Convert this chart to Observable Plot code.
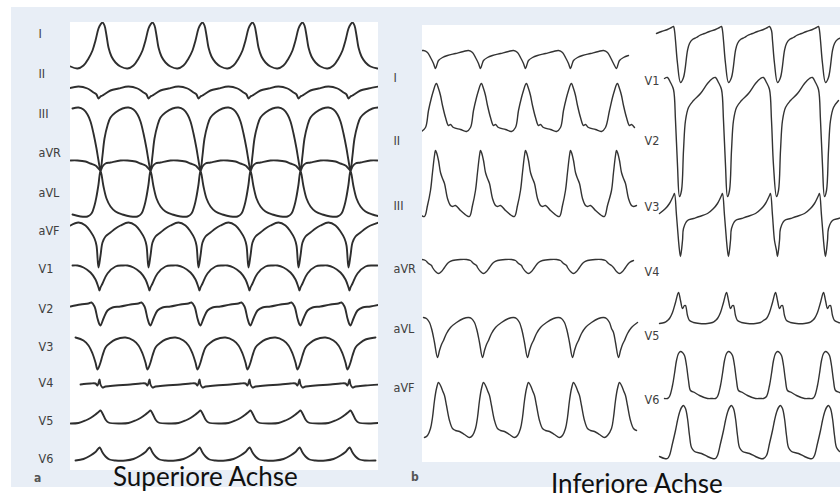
<!DOCTYPE html>
<html><head><meta charset="utf-8">
<script src="https://cdn.jsdelivr.net/npm/d3@7"></script>
<script src="https://cdn.jsdelivr.net/npm/@observablehq/plot@0.6"></script>
<style>
html,body{margin:0;padding:0;background:#fff;}
#page{position:relative;width:840px;height:498px;overflow:hidden;}
.abs{position:absolute;}
.tag{font-family:"Liberation Sans Narrow","DejaVu Sans Condensed",sans-serif;font-size:12px;font-weight:bold;color:#555;line-height:12px;}
.title{font-family:Lato,"Open Sans",sans-serif;font-size:26px;color:#111;line-height:26px;white-space:nowrap;}
svg{overflow:visible;}
</style></head>
<body><div id="page">
<div class="abs" style="left:11px;top:7px;width:829px;height:480px;background:#e8eef6"></div>
<div class="abs" style="left:70px;top:22px;width:308px;height:448px;background:#fff"></div>
<div class="abs" style="left:422px;top:25px;width:418px;height:437px;background:#fff"></div>
<div id="pa" class="abs" style="left:0;top:0"></div>
<div id="pbl" class="abs" style="left:380px;top:0"></div>
<div id="pbr" class="abs" style="left:640px;top:0"></div>
<div class="abs tag" style="left:34px;top:472px">a</div>
<div class="abs tag" style="left:411px;top:471px">b</div>
<div class="abs title" style="left:113px;top:463px">Superiore Achse</div>
<div class="abs title" style="left:551px;top:470px">Inferiore Achse</div>
</div>
<script>
// ---------- Panel a: superior axis (time in ms, amplitude in mm, 10 mm = 1 mV) ----------
const leadsA = ["I","II","III","aVR","aVL","aVF","V1","V2","V3","V4","V5","V6"];
const baselineA = [9.2, 14.2, 29.6, 27.8, 29.6, 42.6, 49.2, 57.2, 64.6, 72.6, 80.2, 87.6];
const labelRowA = [2.2, 10.2, 18.2, 26.0, 34.0, 41.6, 49.2, 57.2, 64.8, 72.0, 79.6, 87.2];
const beatsA = [-100, 150, 400, 650, 900, 1150, 1400, 1650];
const spanA = [0, 1540];
// one beat per lead: [ms after beat, mm]
const a_I   = [[0,8.8],[10,9.2],[20,8.6],[30,6.6],[40,4.2],[55,2.4],[75,1.2],[100,0.4],[135,0],[165,0.6],[190,2.0],[210,3.6],[225,5.6],[240,8.0]];
const a_II  = [[0,-0.6],[10,-0.4],[25,0],[50,0.6],[90,1.0],[140,1.4],[185,1.0],[215,0.2],[230,-0.2],[240,-1.0]];
const a_III = [[0,0],[10,3.0],[20,6.4],[35,9.0],[50,10.6],[75,11.6],[110,12.4],[140,12.6],[165,12.2],[185,11.2],[200,9.8],[215,7.4],[230,4.4],[240,2.0]];
const a_aVR = [[0,-1.8],[10,-1.0],[25,-0.4],[50,-0.2],[100,0.2],[135,0.2],[175,0],[200,-0.4],[225,-0.8],[240,-1.4]];
const a_aVL = [[0,0],[15,-3.2],[30,-5.6],[50,-7.2],[75,-8.2],[110,-8.8],[150,-9.2],[185,-9.2],[205,-8.6],[220,-7.0],[230,-5.2],[240,-2.8]];
const a_aVF = [[0,-4.0],[10,-1.4],[25,-0.2],[50,0.6],[75,1.4],[100,2.0],[140,2.6],[175,2.0],[200,0.8],[220,-0.6],[230,-2.0],[240,-6.4]];
const a_V1  = [[0,-3.8],[10,-3.0],[35,-1.0],[75,0.4],[110,0.6],[135,0.6],[165,0.2],[200,-0.8],[225,-2.2],[240,-3.8],[245,-4.4]];
const a_V2  = [[0,-3.4],[15,-2.0],[35,-0.4],[60,0.2],[100,0.4],[150,0.8],[190,1.0],[205,1.2],[220,0.4],[235,-2.0],[245,-3.2]];
const a_V3  = [[0,-3.4],[10,-2.0],[25,-0.4],[45,0.4],[75,1.2],[125,1.6],[165,1.0],[190,0],[210,-1.6],[225,-3.4],[235,-4.8]];
const a_V4  = [[0,0.2],[10,-0.4],[25,-0.2],[75,0],[150,0.2],[200,0.4],[225,0.4],[235,0],[245,1.2]];
const a_V5  = [[0,2.6],[10,2.0],[25,0.8],[40,0.2],[100,0],[140,0.1],[175,0.6],[200,1.1],[225,1.8],[240,2.3]];
const a_V6  = [[0,2.4],[10,1.6],[25,0.8],[45,0.2],[75,0],[125,0],[165,0.3],[200,1.0],[225,1.7],[245,2.6]];
const shapesA = [a_I,a_II,a_III,a_aVR,a_aVL,a_aVF,a_V1,a_V2,a_V3,a_V4,a_V5,a_V6];

// ---------- Panel b, limb leads ----------
const leadsBL = ["I","II","III","aVR","aVL","aVF"];
const baselineBL = [6.0, 20.6, 38.0, 47.4, 59.0, 82.0];
const labelRowBL = [10.4, 23.0, 36.0, 48.6, 60.6, 72.4];
const beatsBL = [-155, 70, 295, 520, 745, 975, 1200];
const rangeBL = [[0,1040],[0,1040],[5,1055],[15,1055],[25,1055],[30,1065]];
const spanBL = [0, 1090];
const bl_I   = [[-5,-2.6],[2.5,-1.8],[10,-1.0],[30,-0.4],[55,0],[95,0.4],[135,0.8],[160,1.0],[180,0.6],[195,-0.4],[210,-1.6]];
const bl_II  = [[-40,3.6],[-25,6.2],[-15,7.6],[-5,8.8],[0,9.0],[10,8.0],[20,6.6],[30,4.6],[45,2.2],[60,0.6],[70,0.8],[85,0.2],[120,-0.2],[150,-0.6],[170,0.2]];
const bl_III = [[-30,5.0],[-20,8.6],[-10,12.0],[-5,13.0],[0,12.6],[10,11.0],[20,8.6],[30,7.4],[40,6.4],[55,3.4],[70,2.0],[80,1.8],[95,2.0],[120,1.0],[150,0],[165,-0.2],[180,2.0]];
const bl_aVR = [[-20,-1.0],[-5,-1.8],[10,-2.2],[25,-1.8],[40,-1.0],[60,0],[80,0.4],[120,0.6],[150,0.6],[170,0.4],[185,-0.2],[200,-0.6]];
const bl_aVL = [[-20,-2.4],[-10,-4.4],[5,-7.4],[15,-6.0],[25,-4.8],[35,-4.0],[50,-2.6],[70,-1.4],[100,-0.4],[135,0.4],[160,0.6],[175,0.4],[190,-0.4],[200,-1.6]];
const bl_aVF = [[-30,1.4],[-20,3.6],[-10,7.0],[0,9.4],[10,10.6],[20,10.0],[30,9.0],[40,8.0],[50,6.0],[65,3.0],[80,1.4],[95,1.0],[115,0.8],[140,0.2],[165,-0.4],[180,0]];
const shapesBL = [bl_I,bl_II,bl_III,bl_aVR,bl_aVL,bl_aVF];

// ---------- Panel b, chest leads ----------
const leadsBR = ["V1","V2","V3","V4","V5","V6"];
const baselineBR = [1.0, 15.0, 38.6, 59.4, 74.6, 86.0];
const labelRowBR = [11.0, 23.0, 36.2, 49.2, 62.0, 74.8];
const beatsBR = [-120, 120, 360, 605, 845, 1085];
const rangeBR = [[15,925],[50,925],[35,925],[40,925],[50,925],[40,925]];
const spanBR = [0, 925];
const br_1 = [[-25,0],[-20,-2.0],[-10,-6.6],[5,-10.4],[20,-9.4],[40,-4.0],[50,-2.6],[65,-1.8],[85,-1.4],[100,-1.0],[125,-0.6],[150,-0.2],[180,0.2],[200,0.6],[210,0.8]];
const br_2 = [[0,-19.2],[10,-18.0],[20,-10.0],[30,-4.0],[45,-1.4],[70,0],[105,1.4],[140,3.4],[165,4.4],[180,4.6],[195,3.6],[210,2.2],[220,-4.0],[230,-13.0]];
const br_3 = [[0,-6.4],[5,-7.6],[15,-4.4],[20,-2.0],[40,-0.4],[70,0],[100,0.4],[140,1.0],[170,2.0],[190,3.0],[210,4.6],[215,5.0],[225,0.6],[235,-4.4]];
const br_4 = [[-50,0.8],[-35,2.0],[-20,4.0],[-5,6.0],[5,4.4],[15,2.8],[25,3.4],[30,3.4],[40,1.4],[50,0.4],[70,0],[100,-0.2],[140,-0.2],[165,0],[180,0.4]];
const br_5 = [[-50,0.4],[-35,2.6],[-25,5.0],[-15,7.6],[-5,9.0],[5,9.4],[15,9.2],[25,8.6],[35,6.6],[45,3.6],[55,1.6],[75,1.2],[100,0.6],[140,0],[165,0],[180,0]];
const br_6 = [[-50,0],[-35,2.4],[-20,5.0],[-10,7.0],[0,8.6],[10,9.6],[20,10.0],[30,9.4],[40,7.4],[50,4.0],[60,1.6],[75,0.8],[110,0.4],[140,-0.2],[165,-0.6],[180,-0.6]];
const shapesBR = [br_1,br_2,br_3,br_4,br_5,br_6];

// ---------- build ----------
function trace(beats, shape, base, r0, r1) {
  const pts = [];
  for (const b of beats) for (const [t, a] of shape) {
    const x = b + t;
    if (x >= r0 - 20 && x <= r1 + 20) pts.push({t: x, y: a - base});
  }
  return pts.sort((p, q) => p.t - q.t);
}
const labelFont = '"Liberation Sans Narrow","DejaVu Sans Condensed",sans-serif';

function panel({leads, baseline, labelRow, beats, shapes, ranges, span, width, height, ml, mr, mt, mb, dx, sw, stroke}) {
  const yMax = (height - mt - mb) / 5;
  const labels = leads.map((name, i) => ({name, y: -labelRow[i]}));
  return Plot.plot({
    width, height, marginLeft: ml, marginRight: mr, marginTop: mt, marginBottom: mb,
    x: {domain: span, axis: null},
    y: {domain: [-yMax, 0], axis: null},
    style: {background: "transparent", fontFamily: labelFont, fontSize: "12.5px", color: "#404040", overflow: "visible"},
    marks: [
      ...leads.map((name, i) => Plot.line(
        trace(beats, shapes[i], baseline[i], ranges ? ranges[i][0] : span[0], ranges ? ranges[i][1] : span[1]),
        {x: "t", y: "y", stroke, strokeWidth: sw, curve: "catmull-rom", clip: true})),
      Plot.text(labels, {y: "y", text: "name", frameAnchor: "left", textAnchor: "start", dx, fill: "#404040"})
    ]
  });
}

document.getElementById("pa").append(panel({
  leads: leadsA, baseline: baselineA, labelRow: labelRowA, beats: beatsA, shapes: shapesA,
  ranges: null, span: spanA, width: 390, height: 490, ml: 70, mr: 12, mt: 22, mb: 20, dx: -32, sw: 1.9, stroke: "#2e2e2e"
}));
document.getElementById("pbl").append(panel({
  leads: leadsBL, baseline: baselineBL, labelRow: labelRowBL, beats: beatsBL, shapes: shapesBL,
  ranges: rangeBL, span: spanBL, width: 262, height: 490, ml: 42, mr: 2, mt: 25, mb: 28, dx: -29, sw: 1.4, stroke: "#333"
}));
document.getElementById("pbr").append(panel({
  leads: leadsBR, baseline: baselineBR, labelRow: labelRowBR, beats: beatsBR, shapes: shapesBR,
  ranges: rangeBR, span: spanBR, width: 200, height: 490, ml: 15, mr: 0, mt: 25, mb: 28, dx: -11, sw: 1.4, stroke: "#333"
}));
</script>
</body></html>
